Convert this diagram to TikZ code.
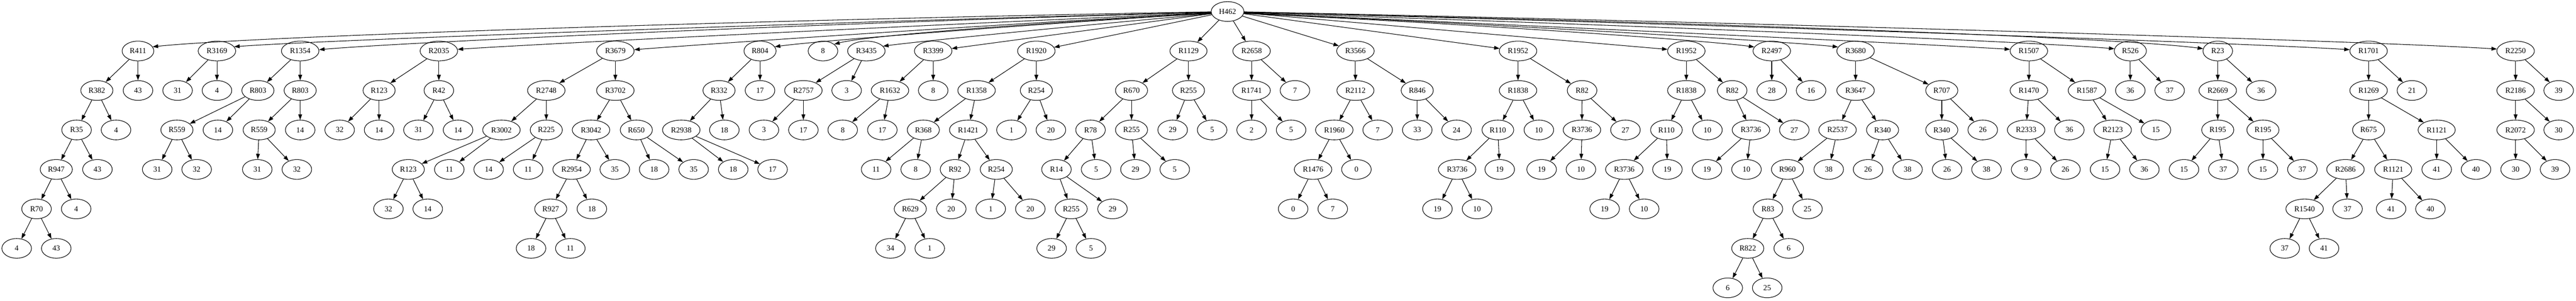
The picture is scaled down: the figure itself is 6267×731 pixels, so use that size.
\documentclass[tikz,border=0pt]{standalone}
\usepackage{fontspec}
\setmainfont{Liberation Serif}
\usetikzlibrary{shapes.geometric,arrows.meta}
\tikzset{
  nd/.style={draw, ellipse, line width=0.3325pt, minimum width=18pt, minimum height=12pt,
    inner xsep=1.85pt, inner ysep=0.5pt, font=\fontsize{4.667}{5.5}\selectfont},
  arr/.style={draw, line width=0.3325pt, -{Triangle[length=3.325pt,width=2.325pt]}}
}
\newcommand\gv[4]{\node[nd] (#1) at (#2,#3) {#4};}
\begin{document}
\begin{tikzpicture}[x=0.25pt,y=0.25pt]
\fill[white] (0,0) rectangle (6267,-731);
\useasboundingbox (0,0) rectangle (6267,-731);
\gv{H462}{2986.4}{-28}{H462}
% 1
\gv{R411}{335.7}{-124}{R411}
\gv{R382}{235.6}{-220}{R382}\gv{R411y}{335.7}{-220}{43}
\gv{R35}{186.3}{-316}{R35}\gv{R382y}{282.3}{-316}{4}
\gv{R947}{136.9}{-412}{R947}\gv{R35y}{237}{-412}{43}
\gv{R70}{88.9}{-508}{R70}\gv{R947y}{185.3}{-508}{4}
\gv{R70x}{40.6}{-604}{4}\gv{R70y}{136.9}{-604}{43}
% 2
\gv{R3169}{527.8}{-124}{R3169}
\gv{R3169x}{432}{-220}{31}\gv{R3169y}{527.8}{-220}{4}
% 3
\gv{R1354}{730.3}{-124}{R1354}
\gv{R803a}{627.5}{-220}{R803}\gv{R803b}{730.3}{-220}{R803}
\gv{R559a}{430.4}{-316}{R559}\gv{R803ay}{530.1}{-316}{14}
\gv{R559ax}{382.4}{-412}{31}\gv{R559ay}{478.4}{-412}{32}
\gv{R559b}{630.5}{-316}{R559}\gv{R803by}{730.3}{-316}{14}
\gv{R559bx}{625.8}{-412}{31}\gv{R559by}{722.2}{-412}{32}
% 4
\gv{R2035}{1067.7}{-124}{R2035}
\gv{R123a}{922.3}{-220}{R123}\gv{R42}{1067.7}{-220}{R42}
\gv{R123ax}{826.3}{-316}{32}\gv{R123ay}{922.3}{-316}{14}
\gv{R42x}{1018}{-316}{31}\gv{R42y}{1114.4}{-316}{14}
% 5
\gv{R3679}{1497}{-124}{R3679}
\gv{R2748}{1329}{-220}{R2748}\gv{R3702}{1497}{-220}{R3702}
\gv{R3002}{1219.9}{-316}{R3002}\gv{R225}{1329}{-316}{R225}
\gv{R3042}{1437.9}{-316}{R3042}\gv{R650}{1548.1}{-316}{R650}
\gv{R123b}{993.3}{-412}{R123}\gv{R3002y}{1093.1}{-412}{11}
\gv{R225x}{1188.8}{-412}{14}\gv{R225y}{1284.8}{-412}{11}
\gv{R2954}{1390.6}{-412}{R2954}\gv{R3042y}{1495.7}{-412}{35}
\gv{R650x}{1591.4}{-412}{18}\gv{R650y}{1687.5}{-412}{35}
\gv{R123bx}{945}{-508}{32}\gv{R123by}{1040.6}{-508}{14}
\gv{R927}{1339.9}{-508}{R927}\gv{R2954y}{1440}{-508}{18}
\gv{R927x}{1291.9}{-604}{18}\gv{R927y}{1387.5}{-604}{11}
% 6
\gv{R804}{1849}{-124}{R804}
\gv{R332}{1749.3}{-220}{R332}\gv{R804y}{1849}{-220}{17}
\gv{R2938}{1657.4}{-316}{R2938}\gv{R332y}{1762.2}{-316}{18}
\gv{R2938x}{1783.8}{-412}{18}\gv{R2938y}{1879.5}{-412}{17}
% 7
\gv{L8}{2002.2}{-124}{8}
% 8
\gv{R3435}{2107.7}{-124}{R3435}
\gv{R2757}{1954.5}{-220}{R2757}\gv{R3435y}{2059.7}{-220}{3}
\gv{R2757x}{1858.5}{-316}{3}\gv{R2757y}{1954.5}{-316}{17}
% 9
\gv{R3399}{2270.3}{-124}{R3399}
\gv{R1632}{2165.2}{-220}{R1632}\gv{R3399y}{2270.3}{-220}{8}
\gv{R1632x}{2050.2}{-316}{8}\gv{R1632y}{2146.6}{-316}{17}
% 10
\gv{R1920}{2521.2}{-124}{R1920}
\gv{R1358}{2375.8}{-220}{R1358}\gv{R254a}{2521.2}{-220}{R254}
\gv{R368}{2246.3}{-316}{R368}\gv{R1421}{2355.5}{-316}{R1421}
\gv{R254ax}{2460.7}{-316}{1}\gv{R254ay}{2556.7}{-316}{20}
\gv{R368x}{2131.4}{-412}{11}\gv{R368y}{2227.7}{-412}{8}
\gv{R92}{2323.4}{-412}{R92}\gv{R254b}{2423.8}{-412}{R254}
\gv{R629}{2214.6}{-508}{R629}\gv{R92y}{2314.3}{-508}{20}
\gv{R254bx}{2410.3}{-508}{1}\gv{R254by}{2506.6}{-508}{20}
\gv{R629x}{2166.2}{-604}{34}\gv{R629y}{2261.9}{-604}{1}
% 11
\gv{R1129}{2891.4}{-124}{R1129}
\gv{R670}{2752.8}{-220}{R670}\gv{R255a}{2891.4}{-220}{R255}
\gv{R78}{2653.1}{-316}{R78}\gv{R255b}{2752.8}{-316}{R255}
\gv{R255ax}{2852.9}{-316}{29}\gv{R255ay}{2948.9}{-316}{5}
\gv{R14}{2570.2}{-412}{R14}\gv{R78y}{2666.6}{-412}{5}
\gv{R255bx}{2762.3}{-412}{29}\gv{R255by}{2858}{-412}{5}
\gv{R255c}{2606}{-508}{R255}\gv{R14y}{2706.5}{-508}{29}
\gv{R255cx}{2558.4}{-604}{29}\gv{R255cy}{2654.1}{-604}{5}
% 12
\gv{R2658}{3044.9}{-124}{R2658}
\gv{R1741}{3044.9}{-220}{R1741}\gv{R2658y}{3150.4}{-220}{7}
\gv{R1741x}{3044.9}{-316}{2}\gv{R1741y}{3141}{-316}{5}
% 13
\gv{R3566}{3297.5}{-124}{R3566}
\gv{R2112}{3297.5}{-220}{R2112}\gv{R846}{3447.9}{-220}{R846}
\gv{R1960}{3246.1}{-316}{R1960}\gv{R2112y}{3351.6}{-316}{7}
\gv{R846x}{3447.9}{-316}{33}\gv{R846y}{3543.6}{-316}{24}
\gv{R1476}{3194.4}{-412}{R1476}\gv{R1960y}{3299.9}{-412}{0}
\gv{R1476x}{3146}{-508}{0}\gv{R1476y}{3242.4}{-508}{7}
% 14
\gv{R1952a}{3693.1}{-124}{R1952}
\gv{R1838a}{3693.1}{-220}{R1838}\gv{R82a}{3848.9}{-220}{R82}
\gv{R110a}{3644}{-316}{R110}\gv{R1838ay}{3743.8}{-316}{10}
\gv{R3736b}{3848.6}{-316}{R3736}\gv{R82ay}{3954.4}{-316}{27}
\gv{R3736a}{3545}{-412}{R3736}\gv{R110ay}{3648.5}{-412}{19}
\gv{R3736bx}{3750.5}{-412}{19}\gv{R3736by}{3846.2}{-412}{10}
\gv{R3736ax}{3497}{-508}{19}\gv{R3736ay}{3593.3}{-508}{10}
% 15
\gv{R1952b}{4102.5}{-124}{R1952}
\gv{R1838b}{4102.5}{-220}{R1838}\gv{R82b}{4214.1}{-220}{R82}
\gv{R110b}{4054.1}{-316}{R110}\gv{R1838by}{4153.9}{-316}{10}
\gv{R3736d}{4259.7}{-316}{R3736}\gv{R82by}{4365.2}{-316}{27}
\gv{R3736c}{3951.7}{-412}{R3736}\gv{R110by}{4056.5}{-412}{19}
\gv{R3736dx}{4152.8}{-412}{19}\gv{R3736dy}{4248.9}{-412}{10}
\gv{R3736cx}{3903.7}{-508}{19}\gv{R3736cy}{4000}{-508}{10}
% 16
\gv{R2497}{4310.4}{-124}{R2497}
\gv{R2497x}{4310.4}{-220}{28}\gv{R2497y}{4406.1}{-220}{16}
% 17
\gv{R3680}{4514.3}{-124}{R3680}
\gv{R3647}{4514.3}{-220}{R3647}\gv{R707}{4724}{-220}{R707}
\gv{R2537}{4470.4}{-316}{R2537}\gv{R340a}{4579.9}{-316}{R340}
\gv{R340b}{4724}{-316}{R340}\gv{R707y}{4823.7}{-316}{26}
\gv{R960}{4348.6}{-412}{R960}\gv{R2537y}{4449}{-412}{38}
\gv{R340ax}{4544.7}{-412}{26}\gv{R340ay}{4640.7}{-412}{38}
\gv{R340bx}{4736.8}{-412}{26}\gv{R340by}{4832.8}{-412}{38}
\gv{R83}{4301}{-508}{R83}\gv{R960y}{4397.3}{-508}{25}
\gv{R822}{4252}{-604}{R822}\gv{R83y}{4351.7}{-604}{6}
\gv{R822x}{4203.3}{-700}{6}\gv{R822y}{4299.3}{-700}{25}
% 18
\gv{R1507}{4935.9}{-124}{R1507}
\gv{R1470}{4935.9}{-220}{R1470}\gv{R1587}{5077.2}{-220}{R1587}
\gv{R2333}{4929.2}{-316}{R2333}\gv{R1470y}{5034.3}{-316}{36}
\gv{R2123}{5139.8}{-316}{R2123}\gv{R1587y}{5245}{-316}{15}
\gv{R2333x}{4929.2}{-412}{9}\gv{R2333y}{5024.8}{-412}{26}
\gv{R2123x}{5121.2}{-412}{15}\gv{R2123y}{5216.9}{-412}{36}
% 19
\gv{R526}{5182.7}{-124}{R526}
\gv{R526x}{5182.7}{-220}{36}\gv{R526y}{5278.4}{-220}{37}
% 20
\gv{R23}{5395.4}{-124}{R23}
\gv{R2669}{5395.4}{-220}{R2669}\gv{R23y}{5500.9}{-220}{36}
\gv{R195a}{5395.4}{-316}{R195}\gv{R195b}{5505.3}{-316}{R195}
\gv{R195ax}{5313.3}{-412}{15}\gv{R195ay}{5408.9}{-412}{37}
\gv{R195bx}{5505.3}{-412}{15}\gv{R195by}{5601.3}{-412}{37}
% 21
\gv{R1701}{5762.4}{-124}{R1701}
\gv{R1269}{5762.4}{-220}{R1269}\gv{R1701y}{5867.8}{-220}{21}
\gv{R675}{5762.4}{-316}{R675}\gv{R1121a}{5928}{-316}{R1121}
\gv{R2686}{5706.1}{-412}{R2686}\gv{R1121b}{5822.2}{-412}{R1121}
\gv{R1121ax}{5928}{-412}{41}\gv{R1121ay}{6023.7}{-412}{40}
\gv{R1540}{5606.7}{-508}{R1540}\gv{R2686y}{5711.2}{-508}{37}
\gv{R1121bx}{5817.1}{-508}{41}\gv{R1121by}{5912.8}{-508}{40}
\gv{R1540x}{5558.4}{-604}{37}\gv{R1540y}{5654}{-604}{41}
% 22
\gv{R2250}{6120}{-124}{R2250}
\gv{R2186}{6120}{-220}{R2186}\gv{R2250y}{6224.8}{-220}{39}
\gv{R2072}{6120}{-316}{R2072}\gv{R2186y}{6224.8}{-316}{30}
\gv{R2072x}{6120}{-412}{30}\gv{R2072y}{6216}{-412}{39}
% root fan edges (left)
\draw[arr] (H462.181) .. controls (1942.1,-46.2) and (627.7,-86.8) .. (R411.16);
\draw[arr] (H462.182) .. controls (2019.2,-53.7) and (806.5,-96.3) .. (R3169.14);
\draw[arr] (H462.183) .. controls (2099.8,-52.3) and (991.7,-101.9) .. (R1354.4);
\draw[arr] (H462.184) .. controls (2231.7,-62.0) and (1296.2,-107.3) .. (R2035.5);
\draw[arr] (H462.185) .. controls (2398.9,-60.1) and (1682.8,-109.7) .. (R3679.4);
\draw[arr] (H462.186) .. controls (2532.0,-57.5) and (1990.4,-98.9) .. (R804.16);
\draw[arr] (H462.187) .. controls (2588.8,-51.6) and (2117.8,-84.1) .. (L8.31);
\draw[arr] (H462.188) .. controls (2635.5,-60.8) and (2227.0,-101.4) .. (R3435.16);
% root fan edges (right)
\draw[arr] (H462.359) .. controls (4215.6,-53.6) and (5770.8,-99.6) .. (R2250.174);
\draw[arr] (H462.358) .. controls (4075.5,-56.9) and (5448.7,-103.9) .. (R1701.176);
\draw[arr] (H462.357) .. controls (3936.8,-49.2) and (5128.4,-87.9) .. (R23.171);
\draw[arr] (H462.356) .. controls (3852.6,-56.8) and (4933.4,-100.5) .. (R526.172);
\draw[arr] (H462.355) .. controls (3753.4,-63.2) and (4704.3,-108.4) .. (R1507.175);
\draw[arr] (H462.354) .. controls (3590.7,-56.7) and (4328.3,-99.2) .. (R3680.167);
\draw[arr] (H462.353) .. controls (3511.8,-54.0) and (4144.8,-97.4) .. (R2497.167);
\foreach \p/\c in {H462/R3399, H462/R1920, H462/R1129, H462/R2658, H462/R3566, H462/R1952a, H462/R1952b,
 R411/R382, R411/R411y, R382/R35, R382/R382y, R35/R947, R35/R35y, R947/R70, R947/R947y, R70/R70x, R70/R70y,
 R3169/R3169x, R3169/R3169y,
 R1354/R803a, R1354/R803b, R803a/R559a, R803a/R803ay, R559a/R559ax, R559a/R559ay, R803b/R559b, R803b/R803by, R559b/R559bx, R559b/R559by,
 R2035/R123a, R2035/R42, R123a/R123ax, R123a/R123ay, R42/R42x, R42/R42y,
 R3679/R2748, R3679/R3702, R2748/R3002, R2748/R225, R3002/R123b, R3002/R3002y, R123b/R123bx, R123b/R123by, R225/R225x, R225/R225y, R3702/R3042, R3702/R650, R3042/R2954, R3042/R3042y, R2954/R927, R2954/R2954y, R927/R927x, R927/R927y, R650/R650x, R650/R650y,
 R804/R332, R804/R804y, R332/R2938, R332/R332y, R2938/R2938x, R2938/R2938y,
 R3435/R2757, R3435/R3435y, R2757/R2757x, R2757/R2757y,
 R3399/R1632, R3399/R3399y, R1632/R1632x, R1632/R1632y,
 R1920/R1358, R1920/R254a, R1358/R368, R1358/R1421, R368/R368x, R368/R368y, R1421/R92, R1421/R254b, R92/R629, R92/R92y, R629/R629x, R629/R629y, R254b/R254bx, R254b/R254by, R254a/R254ax, R254a/R254ay,
 R1129/R670, R1129/R255a, R670/R78, R670/R255b, R78/R14, R78/R78y, R14/R255c, R14/R14y, R255c/R255cx, R255c/R255cy, R255b/R255bx, R255b/R255by, R255a/R255ax, R255a/R255ay,
 R2658/R1741, R2658/R2658y, R1741/R1741x, R1741/R1741y,
 R3566/R2112, R3566/R846, R2112/R1960, R2112/R2112y, R1960/R1476, R1960/R1960y, R1476/R1476x, R1476/R1476y, R846/R846x, R846/R846y,
 R1952a/R1838a, R1952a/R82a, R1838a/R110a, R1838a/R1838ay, R110a/R3736a, R110a/R110ay, R3736a/R3736ax, R3736a/R3736ay, R82a/R3736b, R82a/R82ay, R3736b/R3736bx, R3736b/R3736by,
 R1952b/R1838b, R1952b/R82b, R1838b/R110b, R1838b/R1838by, R110b/R3736c, R110b/R110by, R3736c/R3736cx, R3736c/R3736cy, R82b/R3736d, R82b/R82by, R3736d/R3736dx, R3736d/R3736dy,
 R2497/R2497x, R2497/R2497y,
 R3680/R3647, R3680/R707, R3647/R2537, R3647/R340a, R2537/R960, R2537/R2537y, R960/R83, R960/R960y, R83/R822, R83/R83y, R822/R822x, R822/R822y, R340a/R340ax, R340a/R340ay, R707/R340b, R707/R707y, R340b/R340bx, R340b/R340by,
 R1507/R1470, R1507/R1587, R1470/R2333, R1470/R1470y, R2333/R2333x, R2333/R2333y, R1587/R2123, R1587/R1587y, R2123/R2123x, R2123/R2123y,
 R526/R526x, R526/R526y,
 R23/R2669, R23/R23y, R2669/R195a, R2669/R195b, R195a/R195ax, R195a/R195ay, R195b/R195bx, R195b/R195by,
 R1701/R1269, R1701/R1701y, R1269/R675, R1269/R1121a, R675/R2686, R675/R1121b, R2686/R1540, R2686/R2686y, R1540/R1540x, R1540/R1540y, R1121b/R1121bx, R1121b/R1121by, R1121a/R1121ax, R1121a/R1121ay,
 R2250/R2186, R2250/R2250y, R2186/R2072, R2186/R2186y, R2072/R2072x, R2072/R2072y}
  \draw[arr] (\p) -- (\c);
\end{tikzpicture}
\end{document}
